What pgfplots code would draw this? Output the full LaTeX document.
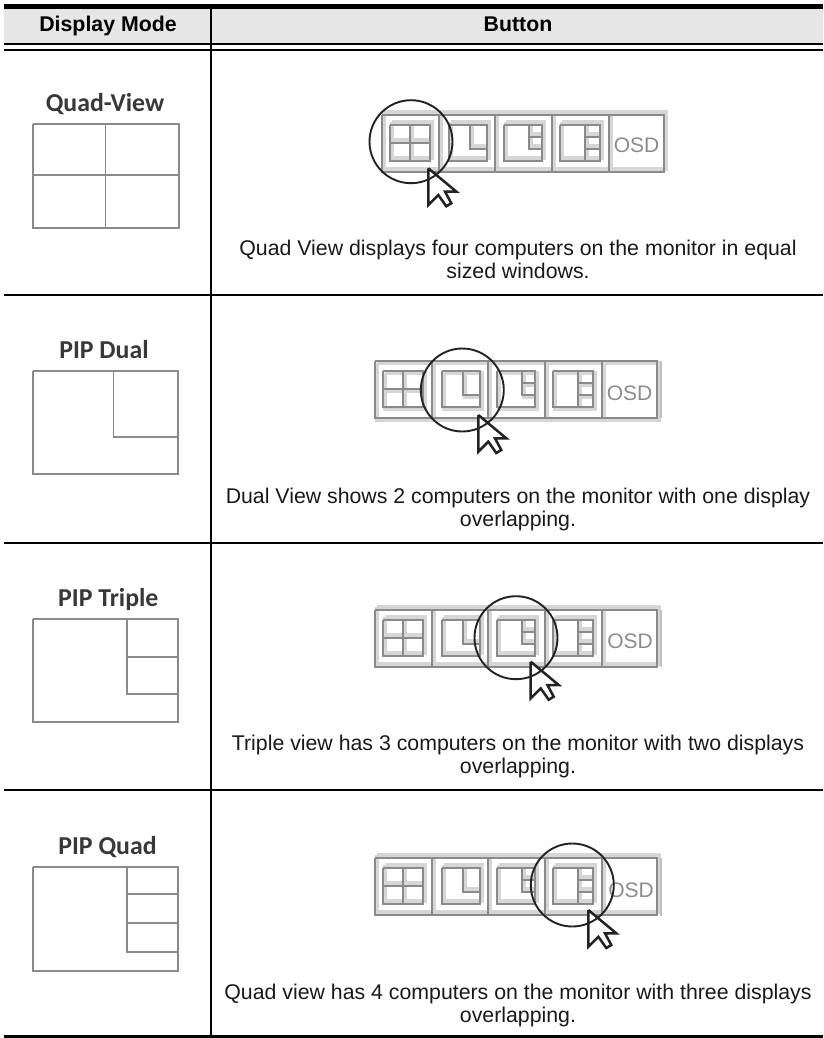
\documentclass[border=0pt]{standalone}
\usepackage{pgfplots}
\usepackage{pgfplotstable}
\pgfplotsset{compat=1.18}
\usepackage{fontspec}
\setmainfont{Liberation Sans}
\newfontfamily\calibri{Carlito}
\definecolor{hdr}{HTML}{E6E6E6}
\definecolor{lin}{HTML}{8A8A8A}
\definecolor{sha}{HTML}{D6D6D6}
\definecolor{cur}{HTML}{222222}
\pgfplotstableread{
x y
0 0
282 0
282 57
0 57
0 0
nan nan
57 0
57 57
nan nan
113 0
113 57
nan nan
170 0
170 57
nan nan
227 0
227 57
nan nan
8 10
48 10
48 46
8 46
8 10
nan nan
28 10
28 46
nan nan
8 28
48 28
nan nan
67 10
105 10
105 46
67 46
67 10
nan nan
88 10
88 34
105 34
nan nan
122 10
160 10
160 46
122 46
122 10
nan nan
147 10
147 34
160 34
nan nan
147 22
160 22
nan nan
178 10
218 10
218 46
178 46
178 10
nan nan
203 10
203 46
nan nan
203 22
218 22
nan nan
203 34
218 34
}\barlines
\pgfplotstableread{
x y
0 0
0 36.7
10 26.7
18 38
23 35
16.7 23.3
28 23.3
0 0
}\ptrshape
\pgfplotsset{
  barline/.style={lin,line width=2.4pt,unbounded coords=jump,no marks},
  barshade/.style={sha,line width=3.5pt,unbounded coords=jump,no marks},
  ring/.style={only marks,mark=o,mark size=41.5pt,mark options={draw=cur,line width=1.9pt,solid}},
  ptr/.style={cur,line width=2.5pt,no marks,line join=miter},
  frame/.style={lin,line width=1.9pt,no marks,unbounded coords=jump},
  rulek/.style={black,no marks,unbounded coords=jump},
}
\newcommand{\capt}[3]{\node[anchor=base,font=\fontsize{21.3}{25}\selectfont,text=black!90] at (axis cs:#1,#2) {#3};}
\newcommand{\modelabel}[3]{\node[anchor=base,font=\fontsize{25.8}{30}\selectfont\calibri\bfseries,text=black!78] at (axis cs:#1,#2) {#3};}
\newcommand{\osd}[2]{\node[anchor=base,font=\fontsize{21}{25}\selectfont,text=black!45] at (axis cs:#1,#2) {OSD};}
\begin{document}
\begin{tikzpicture}
\begin{axis}[x=1pt,y=1pt,xmin=0,xmax=823,ymin=0,ymax=1038,y dir=reverse,hide axis,clip=false]
\path[use as bounding box] (axis cs:0,0) rectangle (axis cs:823,1038);
% header
\addplot[draw=none,fill=hdr] coordinates {(4,9) (823,9) (823,43) (4,43) (4,9)};
% frames in the first column
\addplot[frame] coordinates {(33,124)(179,124)(179,228)(33,228)(33,124)(nan,nan)(105.5,124)(105.5,228)(nan,nan)(33,175)(179,175)};
\addplot[frame] coordinates {(33,371)(178,371)(178,474)(33,474)(33,371)(nan,nan)(113.5,371)(113.5,437)(178,437)};
\addplot[frame] coordinates {(33,619)(178,619)(178,722)(33,722)(33,619)(nan,nan)(127,619)(127,694)(178,694)(nan,nan)(127,657)(178,657)};
\addplot[frame] coordinates {(33,867)(178,867)(178,971)(33,971)(33,867)(nan,nan)(127,867)(127,952)(178,952)(nan,nan)(127,894)(178,894)(nan,nan)(127,923)(178,923)};
% button bars
\addplot[barshade] table[x expr=\thisrow{x}+382+2,y expr=\thisrow{y}+115-3]{\barlines};
\addplot[barline] table[x expr=\thisrow{x}+382,y expr=\thisrow{y}+115]{\barlines};
\addplot[barshade] table[x expr=\thisrow{x}+375+2,y expr=\thisrow{y}+361+2]{\barlines};
\addplot[barline] table[x expr=\thisrow{x}+375,y expr=\thisrow{y}+361]{\barlines};
\addplot[barshade] table[x expr=\thisrow{x}+375+2,y expr=\thisrow{y}+610-3]{\barlines};
\addplot[barline] table[x expr=\thisrow{x}+375,y expr=\thisrow{y}+610]{\barlines};
\addplot[barshade] table[x expr=\thisrow{x}+375+2,y expr=\thisrow{y}+858-3]{\barlines};
\addplot[barline] table[x expr=\thisrow{x}+375,y expr=\thisrow{y}+858]{\barlines};
\addplot[sha!70!lin,line width=2pt,no marks] coordinates {(661,361)(661,418)};
\addplot[sha!70!lin,line width=2pt,no marks] coordinates {(661,610)(661,667)};
\addplot[sha!70!lin,line width=2pt,no marks] coordinates {(661,858)(661,916)};
\osd{636.5}{153}
\osd{629.5}{400}
\osd{630}{648}
\osd{631}{897}
% circles
\addplot[ring] coordinates {(411,141.7)};
\addplot[ring] coordinates {(462.3,390)};
\addplot[ring] coordinates {(516,637.7)};
\addplot[ring] coordinates {(572.3,885)};
% pointers
\addplot[ptr,fill=white] table[x expr=\thisrow{x}+428.3,y expr=\thisrow{y}+168.3]{\ptrshape};
\addplot[ptr,fill=white] table[x expr=\thisrow{x}+478.3,y expr=\thisrow{y}+415]{\ptrshape};
\addplot[ptr,fill=white] table[x expr=\thisrow{x}+530.7,y expr=\thisrow{y}+661.7]{\ptrshape};
\addplot[ptr,fill=white] table[x expr=\thisrow{x}+588.3,y expr=\thisrow{y}+910]{\ptrshape};
% table rules
\addplot[rulek,line width=5.3pt] coordinates {(4,6.65)(823,6.65)};
\addplot[rulek,line width=2.2pt] coordinates {(4,43.8)(823,43.8)};
\addplot[rulek,line width=2pt] coordinates {(4,50)(823,50)};
\addplot[rulek,line width=2pt] coordinates {(211,9)(211,1035)};
\addplot[rulek,line width=2.2pt] coordinates {(4,295)(823,295)};
\addplot[rulek,line width=2.2pt] coordinates {(4,542.7)(823,542.7)};
\addplot[rulek,line width=2.2pt] coordinates {(4,790)(823,790)};
\addplot[rulek,line width=3pt] coordinates {(4,1036.5)(823,1036.5)};
% text
\node[anchor=base,font=\fontsize{21.3}{25}\selectfont\bfseries] at (axis cs:108,32) {Display Mode};
\node[anchor=base,font=\fontsize{21.3}{25}\selectfont\bfseries] at (axis cs:518,32) {Button};
\modelabel{105}{111.7}{Quad-View}
\modelabel{104}{358.3}{PIP Dual}
\modelabel{108.3}{606}{PIP Triple}
\modelabel{107.5}{854}{PIP Quad}
\capt{518}{255.5}{Quad View displays four computers on the monitor in equal}
\capt{518}{278.5}{sized windows.}
\capt{518}{503.3}{Dual View shows 2 computers on the monitor with one display}
\capt{518}{526.3}{overlapping.}
\capt{518}{750.7}{Triple view has 3 computers on the monitor with two displays}
\capt{518}{773.7}{overlapping.}
\capt{518}{999.3}{Quad view has 4 computers on the monitor with three displays}
\capt{518}{1022.3}{overlapping.}
\end{axis}
\end{tikzpicture}
\end{document}
